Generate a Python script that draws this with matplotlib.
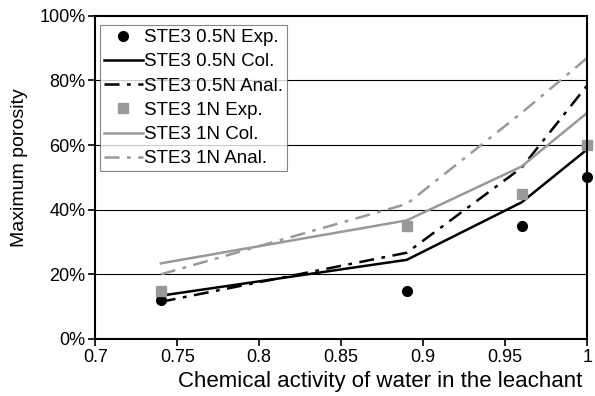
import matplotlib
matplotlib.use('Agg')
import matplotlib.pyplot as plt
from matplotlib.ticker import FuncFormatter

plt.rcParams['font.family'] = ['Liberation Sans', 'DejaVu Sans']

# water activity
aw = [0.74, 0.89, 0.96, 1.0]

exp_05 = [12, 15, 35, 50]
col_05 = [13.4, 24.5, 42.3, 58.7]
anal_05 = [11.5, 26.7, 53, 78.5]

exp_1 = [15, 35, 45, 60]
col_1 = [23.4, 36.7, 53.4, 70]
anal_1 = [20, 41.8, 70, 87]

grey = '#999999'
dashdot = (0, (6, 3, 1.5, 3))

fig = plt.figure(figsize=(5.95, 3.96), dpi=100)
ax = fig.add_axes([0.16, 0.144, 0.827, 0.816])

for y in [20, 40, 60, 80]:
    ax.axhline(y, color='black', lw=0.8, zorder=0)

ax.plot(aw, exp_05, 'o', color='black', ms=7, ls='none', label='STE3 0.5N Exp.', clip_on=False)
ax.plot(aw, col_05, color='black', lw=1.8, label='STE3 0.5N Col.')
ax.plot(aw, anal_05, color='black', lw=1.8, ls=dashdot, label='STE3 0.5N Anal.')
ax.plot(aw, exp_1, 's', color=grey, ms=7, ls='none', label='STE3 1N Exp.', clip_on=False)
ax.plot(aw, col_1, color=grey, lw=1.8, label='STE3 1N Col.')
ax.plot(aw, anal_1, color=grey, lw=1.8, ls=dashdot, label='STE3 1N Anal.')

ax.set_xlim(0.7, 1.0)
ax.set_ylim(0, 100)
ax.set_xticks([0.7, 0.75, 0.8, 0.85, 0.9, 0.95, 1.0])
ax.set_xticklabels(['0.7', '0.75', '0.8', '0.85', '0.9', '0.95', '1'])
ax.set_yticks([0, 20, 40, 60, 80, 100])
ax.yaxis.set_major_formatter(FuncFormatter(lambda v, p: '%d%%' % v))
ax.tick_params(labelsize=13, direction='out', length=5, width=1.2, pad=2)
for s in ax.spines.values():
    s.set_linewidth(1.5)

ax.set_xlabel('Chemical activity of water in the leachant', fontsize=16)
ax.xaxis.set_label_coords(0.58, -0.1, transform=ax.transAxes)
ax.set_ylabel('Maximum porosity', fontsize=14)
ax.yaxis.set_label_coords(-0.136, 0.53, transform=ax.transAxes)

leg = ax.legend(loc='upper left', bbox_to_anchor=(0.0, 0.985), fontsize=13.5,
                frameon=True, fancybox=False, handlelength=2.1, handletextpad=0.05,
                borderpad=0.2, labelspacing=0.38, borderaxespad=0.25)
leg.get_frame().set_edgecolor('#666666')
leg.get_frame().set_linewidth(0.8)

fig.savefig('out.png', dpi=100)
